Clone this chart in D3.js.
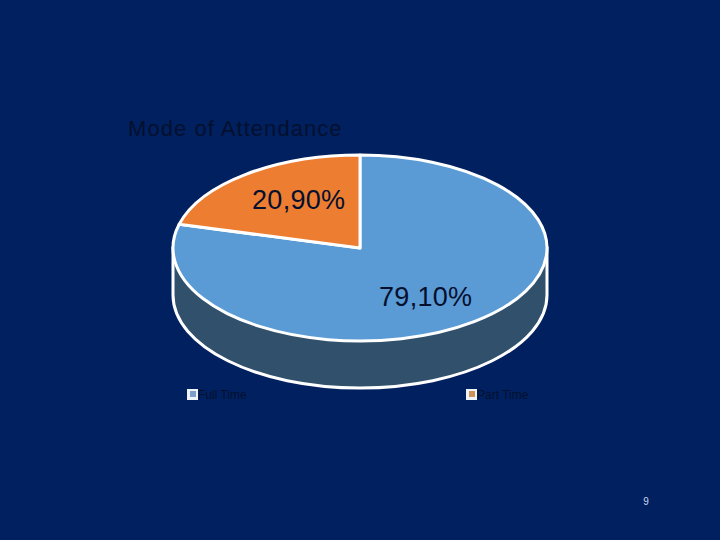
<!DOCTYPE html>
<html>
<head>
<meta charset="utf-8">
<script src="https://cdn.jsdelivr.net/npm/d3@7"></script>
<style>
  html, body { margin: 0; padding: 0; background: #002060; }
  text { font-family: "Liberation Sans", Arial, sans-serif; fill: #04102e; }
</style>
</head>
<body>
<div id="chart"></div>
<script>
const categories = ["Full Time", "Part Time"];
const shares = [79.1, 20.9];
const shareLabels = ["79,10%", "20,90%"];
const sliceColors = ["#5b9bd5", "#ed7d31"];
const legendColors = ["#7f9fcb", "#cf9358"];

const width = 720, height = 540;
const cx = 360, cy = 248, rx = 187, ry = 93, depth = 47;

const svg = d3.select("#chart").append("svg")
    .attr("width", width)
    .attr("height", height)
    .style("display", "block");

svg.append("rect")
    .attr("width", width)
    .attr("height", height)
    .attr("fill", "#002060");

svg.append("text")
    .attr("x", 128)
    .attr("y", 136)
    .attr("font-size", 22)
    .style("letter-spacing", "1.05px")
    .text("Mode of Attendance");

// Side wall of the cylinder
const k = 0.5523;
const wall = d3.path();
wall.moveTo(cx - rx, cy);
wall.lineTo(cx - rx, cy + depth);
wall.bezierCurveTo(cx - rx, cy + depth + ry * k, cx - rx * k, cy + depth + ry, cx, cy + depth + ry);
wall.bezierCurveTo(cx + rx * k, cy + depth + ry, cx + rx, cy + depth + ry * k, cx + rx, cy + depth);
wall.lineTo(cx + rx, cy);
wall.closePath();

svg.append("path")
    .attr("d", wall.toString())
    .attr("fill", "#31506c")
    .attr("stroke", "#fff")
    .attr("stroke-width", 3);

// Top face: a normal pie squashed into the ellipse
const pie = d3.pie().sort(null);
const arc = d3.arc().innerRadius(0).outerRadius(rx);

svg.append("g")
    .attr("transform", `translate(${cx},${cy}) scale(1,${ry / rx})`)
    .selectAll("path")
    .data(pie(shares))
    .enter().append("path")
    .attr("d", arc)
    .attr("fill", (d, i) => sliceColors[i])
    .attr("stroke", "#fff")
    .attr("stroke-width", 3)
    .attr("stroke-linejoin", "round")
    .attr("vector-effect", "non-scaling-stroke");

// Data labels
const labelPos = [[379, 306], [252, 209]];
svg.selectAll(".share")
    .data(shareLabels)
    .enter().append("text")
    .attr("class", "share")
    .attr("x", (d, i) => labelPos[i][0])
    .attr("y", (d, i) => labelPos[i][1])
    .attr("font-size", 27)
    .style("letter-spacing", "0.3px")
    .text(d => d);

// Legend
const legendX = d3.scalePoint().domain(categories).range([187, 466]);
const legend = svg.selectAll(".legend")
    .data(categories)
    .enter().append("g")
    .attr("class", "legend")
    .attr("transform", d => `translate(${legendX(d)},389)`);

legend.append("rect")
    .attr("width", 11)
    .attr("height", 11)
    .attr("fill", "#eef4fa");

legend.append("rect")
    .attr("x", 3)
    .attr("y", 2)
    .attr("width", 6)
    .attr("height", 6)
    .attr("fill", (d, i) => legendColors[i]);

legend.append("text")
    .attr("x", 11)
    .attr("y", 10)
    .attr("font-size", 12)
    .text(d => d);

// Slide number
svg.append("text")
    .attr("x", 646)
    .attr("y", 505)
    .attr("text-anchor", "middle")
    .attr("font-size", 10)
    .style("fill", "#c9d6ee")
    .text("9");
</script>
</body>
</html>
